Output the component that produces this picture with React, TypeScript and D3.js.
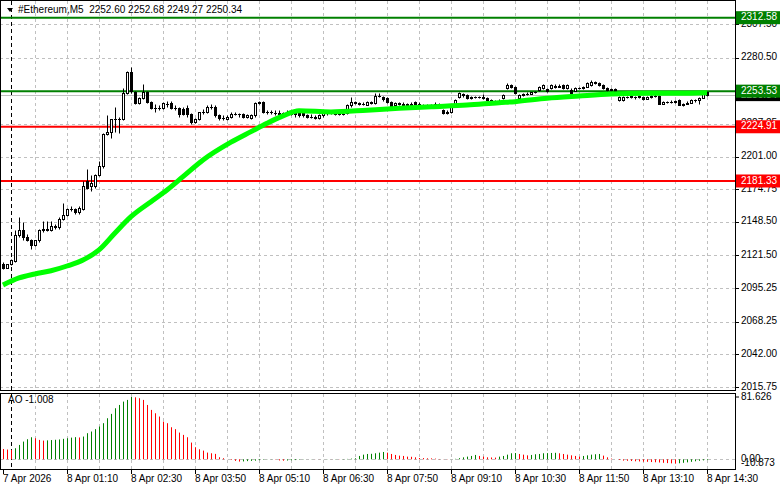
import * as d3 from 'd3';

// 5-minute candles, 7 Apr 23:50 .. 8 Apr 14:30  [open, high, low, close]
const candles: [number, number, number, number][] = [
  [2114.6, 2116, 2110.5, 2111.5], [2111.5, 2115, 2111, 2114.6], [2114.6, 2118.5, 2114, 2117.8], [2117, 2142, 2116, 2138],
  [2138, 2152, 2136, 2142], [2142, 2148, 2134, 2136.5], [2136.5, 2139, 2133, 2134], [2134, 2135, 2127, 2130],
  [2130, 2134, 2129, 2133.5], [2133.5, 2143, 2132, 2142], [2142, 2149, 2140, 2143], [2143, 2149, 2141, 2142],
  [2142, 2149, 2141, 2145], [2145, 2147, 2143, 2144], [2144, 2152, 2143, 2151], [2151, 2164, 2150, 2154],
  [2154, 2160, 2153, 2159], [2159, 2161, 2157, 2159], [2159, 2160, 2155, 2156], [2156, 2161, 2155, 2160],
  [2159, 2181, 2158, 2177], [2181, 2191, 2175, 2176], [2177, 2186, 2173, 2180], [2177, 2187, 2176, 2186],
  [2186, 2197, 2185, 2193], [2193, 2220, 2192, 2219], [2219, 2234, 2218, 2221], [2221, 2231, 2216, 2231],
  [2231, 2241, 2221, 2231], [2231, 2233, 2220, 2231], [2231, 2256, 2230, 2252], [2252, 2270, 2251, 2269],
  [2269, 2273, 2252, 2254], [2253, 2254, 2243, 2244], [2244, 2249, 2243, 2248], [2248, 2259, 2247, 2253],
  [2253, 2254, 2244, 2245], [2245, 2246, 2239, 2240], [2240, 2243, 2237, 2240], [2240, 2242, 2238, 2240],
  [2240, 2245, 2239, 2244], [2243, 2246, 2241, 2243], [2244, 2246, 2239, 2240], [2240, 2242, 2238, 2240],
  [2240, 2241, 2233, 2235], [2239, 2241, 2234, 2235], [2240, 2242, 2233, 2235], [2235, 2236, 2227, 2229],
  [2229, 2232, 2228, 2231], [2231, 2237, 2230, 2237], [2237, 2239, 2235, 2237], [2237, 2242, 2236, 2241],
  [2241, 2243, 2239, 2241], [2241, 2242, 2233, 2234], [2234, 2235, 2230, 2232], [2232, 2234, 2230, 2232],
  [2231, 2234, 2230, 2233], [2233, 2237, 2232, 2235], [2235, 2237, 2234, 2235], [2235, 2236, 2233, 2235],
  [2235, 2236, 2232, 2233], [2233, 2235, 2232, 2234], [2232, 2235, 2231, 2234], [2234, 2245, 2233, 2244],
  [2244, 2246, 2243, 2245], [2245, 2246, 2236, 2237], [2237, 2238, 2235, 2237], [2237, 2238, 2235, 2237],
  [2236, 2238, 2234, 2236], [2236, 2238, 2234, 2235], [2235, 2237, 2233, 2236], [2236, 2238, 2234, 2237],
  [2237, 2238, 2234, 2235], [2235, 2237, 2233, 2236], [2236, 2237, 2233, 2234], [2237, 2238, 2233, 2234],
  [2234, 2235, 2232, 2233], [2233, 2235, 2232, 2233], [2233, 2234, 2231, 2232], [2232, 2235, 2231, 2234],
  [2234, 2237, 2233, 2236], [2236, 2238, 2234, 2236], [2236, 2238, 2235, 2237], [2237, 2238, 2234, 2235],
  [2235, 2236, 2234, 2235], [2235, 2237, 2234, 2235], [2236, 2243, 2235, 2242], [2242, 2249, 2241, 2245],
  [2245, 2246, 2243, 2244], [2244, 2245, 2242, 2243.5], [2243.5, 2245, 2242, 2243.5], [2242.5, 2246, 2242, 2245],
  [2245, 2246, 2243, 2244], [2244, 2252, 2243, 2250], [2250, 2252, 2249, 2250], [2249, 2250, 2246, 2247],
  [2248, 2249, 2244, 2245], [2245, 2246, 2241, 2241.6], [2242, 2244.5, 2241, 2244], [2244, 2245, 2242, 2243],
  [2243.5, 2245, 2240.5, 2241.6], [2242, 2244, 2241, 2242.9], [2243.5, 2244.5, 2241, 2241.6], [2245, 2246, 2242, 2242.9],
  [2243.5, 2244.5, 2241, 2241.6], [2242, 2243.5, 2241, 2242.4], [2242, 2243, 2241, 2242], [2242, 2243.5, 2241, 2242.5],
  [2243, 2245, 2242, 2243.5], [2243, 2244, 2241, 2242], [2238, 2239, 2235, 2235.7], [2236, 2238, 2235, 2237],
  [2237, 2242, 2236, 2241.6], [2242, 2247, 2241, 2246.4], [2249, 2253, 2248, 2251.8], [2251, 2252, 2249, 2250.5],
  [2250.5, 2251.5, 2247, 2247.7], [2248, 2250, 2247, 2249], [2249, 2250, 2248, 2249], [2249, 2250, 2248, 2249],
  [2249, 2251, 2247, 2248], [2248, 2249, 2245.5, 2246.4], [2246.4, 2247, 2244, 2245], [2245, 2246.5, 2244, 2245],
  [2245, 2247, 2244, 2246], [2247.7, 2251, 2247, 2250.3], [2255.8, 2260, 2255, 2258.5], [2258.5, 2259.5, 2256, 2257],
  [2257, 2258, 2251, 2251.8], [2248, 2251, 2247, 2250.3], [2250.3, 2252, 2249.5, 2251.3], [2251.3, 2252.5, 2250.5, 2251.6],
  [2251.6, 2253, 2251, 2252.7], [2252.7, 2253.5, 2252, 2252.7], [2254.5, 2258, 2254, 2257.1], [2256, 2259, 2255.5, 2258.5],
  [2255, 2256, 2252.5, 2253.5], [2255.8, 2259, 2255, 2258.5], [2258, 2259, 2256, 2257.2], [2257.2, 2259, 2256.5, 2257.7],
  [2258.5, 2259.5, 2255, 2255.8], [2255.8, 2259.5, 2255, 2258.5], [2254.5, 2256, 2251, 2251.8], [2254, 2257, 2253.5, 2255.8],
  [2255.8, 2257, 2255, 2256], [2256, 2258, 2255.5, 2257.2], [2257.2, 2260.5, 2256.5, 2259.8], [2258.5, 2262.5, 2258, 2261.2],
  [2261, 2262, 2259, 2259.8], [2259.8, 2260.5, 2258, 2258.5], [2258.5, 2259, 2255.5, 2255.8], [2255.8, 2256.5, 2254, 2254.5],
  [2254.5, 2256, 2253.5, 2255], [2255, 2256, 2253, 2253.5], [2246.4, 2249.5, 2246, 2248.9], [2246.7, 2249.5, 2246, 2248.9],
  [2249, 2250, 2248, 2249], [2249, 2250, 2248, 2249.5], [2249, 2250, 2247, 2249], [2249, 2250.5, 2248, 2249.5],
  [2249, 2250, 2246.4, 2247.6], [2247.6, 2249.5, 2247, 2249], [2249, 2250.5, 2248, 2250], [2250, 2251, 2248.5, 2249.5],
  [2249.5, 2250.5, 2243, 2243.6], [2243.6, 2246, 2243, 2245], [2245, 2246, 2244, 2245], [2245, 2246.5, 2244, 2245.1],
  [2245, 2246.5, 2244, 2245.5], [2246.4, 2247, 2242, 2242.4], [2242, 2244, 2241.5, 2243.6], [2243.6, 2245.5, 2243, 2244.3],
  [2244.3, 2247, 2244, 2246.4], [2246.4, 2247.5, 2245, 2246.5], [2246.5, 2249, 2243.6, 2248.3], [2248.3, 2251.5, 2248, 2251],
  [2252.6, 2252.68, 2249.27, 2250.34],
];

// moving average, read at selected bars
const maBars = [0, 4, 8, 12, 16, 20, 24, 28, 32, 37, 41, 45, 50, 57, 62, 66, 70, 74, 82, 91, 99, 107, 116, 124, 128, 136, 144, 152, 161, 169, 176];
const maValues = [2097.7, 2103.4, 2106.6, 2109.2, 2113.0, 2117.8, 2125.9, 2139.5, 2152.6, 2164.7, 2174.1, 2184.8, 2198.2, 2212.5, 2221.0, 2227.7, 2233.6, 2237.8, 2236.8, 2238.2, 2239.7, 2241.0, 2242.4, 2244.3, 2245.1, 2247.8, 2249.6, 2251.2, 2251.8, 2251.8, 2252.3];

// Awesome Oscillator
const aoValues = [
  13.5, 12.8, 12.2, 14.5, 18.8, 23.2, 26.3, 28.9, 27.6, 25.4,
  24.5, 24.8, 25.2, 25.6, 26.0, 26.8, 27.6, 28.4, 29.0, 28.6,
  29.8, 34.2, 36.4, 39.5, 42.9, 47.3, 53.8, 59.5, 66.9, 71.2,
  75.6, 77.8, 81.6, 81.2, 80.0, 77.8, 71.2, 64.7, 60.3, 56.0,
  49.4, 47.3, 42.0, 39.5, 35.0, 32.0, 28.9, 21.9, 15.8, 13.1,
  11.4, 8.8, 7.9, 7.1, 2.7, 1.4, 0.1, -0.8, -2.1, -3.0,
  -2.8, -2.4, -2.1, -1.8, -1.2, -0.6, -0.2, 0.2, -0.4, -1.5,
  -1.8, -1.6, -1.3, -1.0, -0.6, -0.3, 0.0, 0.2, 0.1, -0.1,
  0.1, 0.2, 0.1, 0.3, 0.2, 0.3, 0.5, 0.9, 1.3, 4.4,
  6.1, 7.0, 7.2, 7.9, 8.7, 9.6, 8.7, 7.0, 5.7, 4.8,
  4.4, 3.5, 3.3, 2.6, 1.7, 1.6, 1.3, 1.2, 0.9, 0.4,
  0.2, -0.3, -0.1, 0.6, 1.5, 2.6, 3.5, 4.4, 5.7, 4.4,
  3.5, 2.6, 2.4, 2.2, 3.5, 4.4, 6.1, 7.9, 8.2, 7.0,
  6.1, 5.2, 5.7, 6.6, 7.0, 7.9, 8.1, 8.3, 8.5, 7.9,
  7.0, 6.1, 5.2, 4.4, 3.5, 4.4, 5.2, 6.1, 6.6, 7.0,
  4.8, 2.6, 0.9, 0.0, -0.9, -1.7, -2.0, -2.3, -2.6, -2.8,
  -3.1, -3.3, -3.6, -3.9, -4.2, -4.6, -5.0, -5.3, -5.7, -5.2,
  -4.6, -4.0, -3.3, -2.6, -2.0, -1.4, -1.008,
];

const priceTicks = [2015.75, 2042.0, 2068.25, 2095.25, 2121.5, 2148.5, 2174.75, 2201.0, 2227.25, 2253.5, 2280.5, 2307.5];
const timeLabels = ['7 Apr 2026', '8 Apr 01:10', '8 Apr 02:30', '8 Apr 03:50', '8 Apr 05:10', '8 Apr 06:30', '8 Apr 07:50', '8 Apr 09:10', '8 Apr 10:30', '8 Apr 11:50', '8 Apr 13:10', '8 Apr 14:30'];
const levels = [
  { price: 2312.58, color: '#008000' },
  { price: 2253.53, color: '#008000' },
  { price: 2224.91, color: '#ff0000' },
  { price: 2181.33, color: '#ff0000' },
];
const bid = 2250.34;
const aoMax = 81.626;
const aoMin = -10.873;

const W = 781;
const H = 489;
const RIGHT = 735;
const FONT = "'Liberation Sans', Arial, sans-serif";
const GRID = '#c0c0c0';

export default function App() {
  const x = d3.scaleLinear().domain([0, candles.length - 1]).range([3, 707]);
  const y = d3.scaleLinear().domain([2015.75, 2307.5]).range([387, 24]);
  const yAo = d3.scaleLinear().domain([aoMin, aoMax]).range([467.6, 397]);
  const px = (i: number) => Math.round(x(i)) + 0.5;
  const py = (v: number) => Math.round(y(v)) + 0.5;

  const maLine = d3.line<number>()
    .x((_, k) => x(maBars[k]))
    .y(d => y(d))
    .curve(d3.curveMonotoneX);

  const gridBars = d3.range(8, candles.length, 8);
  const labelBars = timeLabels.map((_, k) => k * 16);

  return (
    <svg width={W} height={H} style={{ position: 'fixed', left: 0, top: 0, background: '#fff' }} fontFamily={FONT} fontSize={10}>
      <rect width={W} height={H} fill="#fff" />

      {/* grid */}
      {priceTicks.map(t => (
        <line key={'h' + t} x1={0} x2={RIGHT} y1={py(t)} y2={py(t)} stroke={GRID} strokeDasharray="3,3" />
      ))}
      {gridBars.map(b => (
        <g key={'v' + b}>
          <line x1={px(b)} x2={px(b)} y1={1} y2={390} stroke={GRID} strokeDasharray="3,3" />
          <line x1={px(b)} x2={px(b)} y1={394} y2={469} stroke={GRID} strokeDasharray="3,3" />
        </g>
      ))}
      <line x1={0} x2={RIGHT} y1={Math.round(yAo(0)) + 0.5} y2={Math.round(yAo(0)) + 0.5} stroke={GRID} strokeDasharray="3,3" />

      {/* day separator */}
      <line x1={px(2)} x2={px(2)} y1={1} y2={469} stroke="#000" strokeDasharray="4,3" />

      {/* levels and bid line */}
      <line x1={0} x2={RIGHT} y1={py(bid)} y2={py(bid)} stroke="#c0c0c0" />
      {levels.map(l => (
        <line key={'l' + l.price} x1={0} x2={RIGHT} y1={y(l.price)} y2={y(l.price)} stroke={l.color} strokeWidth={2} />
      ))}

      {/* candles */}
      {candles.map(([o, h, l, c], i) => {
        const cx = px(i);
        const top = py(Math.max(o, c));
        const bot = py(Math.min(o, c));
        return (
          <g key={'c' + i}>
            <line x1={cx} x2={cx} y1={py(h)} y2={py(l)} stroke="#000" />
            {bot - top < 1 ? (
              <line x1={cx - 1.5} x2={cx + 1.5} y1={top} y2={top} stroke="#000" />
            ) : (
              <rect x={cx - 1} y={top} width={2} height={bot - top} fill={c >= o ? '#fff' : '#000'} stroke="#000" />
            )}
          </g>
        );
      })}

      {/* moving average */}
      <path d={maLine(maValues) || ''} fill="none" stroke="#00ff00" strokeWidth={5} />

      {/* AO histogram */}
      {aoValues.map((v, i) => (
        <line key={'a' + i} x1={px(i)} x2={px(i)} y1={yAo(0)} y2={yAo(v)}
          stroke={i > 0 && v > aoValues[i - 1] ? '#008000' : '#ff0000'} />
      ))}

      {/* frames */}
      <rect x={0.5} y={0.5} width={RIGHT} height={390} fill="none" stroke="#000" />
      <rect x={0.5} y={393.5} width={RIGHT} height={76} fill="none" stroke="#000" />

      {/* price axis */}
      {priceTicks.map(t => (
        <g key={'pt' + t}>
          <line x1={RIGHT} x2={RIGHT + 4} y1={py(t)} y2={py(t)} stroke="#000" />
          <text x={741} y={y(t)} dominantBaseline="middle" fill="#000">{t.toFixed(2)}</text>
        </g>
      ))}
      <rect x={736} y={y(bid) - 6} width={44} height={12} fill="#000" />
      <text x={741} y={y(bid)} dominantBaseline="middle" fill="#fff">{bid.toFixed(2)}</text>
      {levels.map(l => (
        <g key={'lb' + l.price}>
          <rect x={736} y={y(l.price) - 6.5} width={44} height={13} fill={l.color} />
          <text x={741} y={y(l.price)} dominantBaseline="middle" fill="#fff">{l.price.toFixed(2)}</text>
        </g>
      ))}

      {/* AO axis */}
      <line x1={RIGHT} x2={RIGHT + 4} y1={yAo(aoMax)} y2={yAo(aoMax)} stroke="#000" />
      <text x={741} y={yAo(aoMax)} dominantBaseline="middle">{aoMax.toFixed(3)}</text>
      <text x={741} y={yAo(aoMin) - 4} dominantBaseline="middle">{aoMin.toFixed(3)}</text>
      <text x={741} y={yAo(0)} dominantBaseline="middle">0.00</text>

      {/* time axis */}
      {labelBars.map((b, k) => (
        <g key={'t' + b}>
          <line x1={px(b)} x2={px(b)} y1={469} y2={474} stroke="#000" />
          <text x={Math.round(x(b))} y={482}>{timeLabels[k]}</text>
        </g>
      ))}

      {/* titles */}
      <path d="M7,8 L13,8 L10,12 Z" fill="#000" />
      <text x={18} y={10} dominantBaseline="middle" style={{ whiteSpace: 'pre' }}>
        {'#Ethereum,M5  2252.60 2252.68 2249.27 2250.34'}
      </text>
      <text x={8} y={400} dominantBaseline="middle">{'AO -' + Math.abs(aoValues[aoValues.length - 1]).toFixed(3)}</text>
    </svg>
  );
}
